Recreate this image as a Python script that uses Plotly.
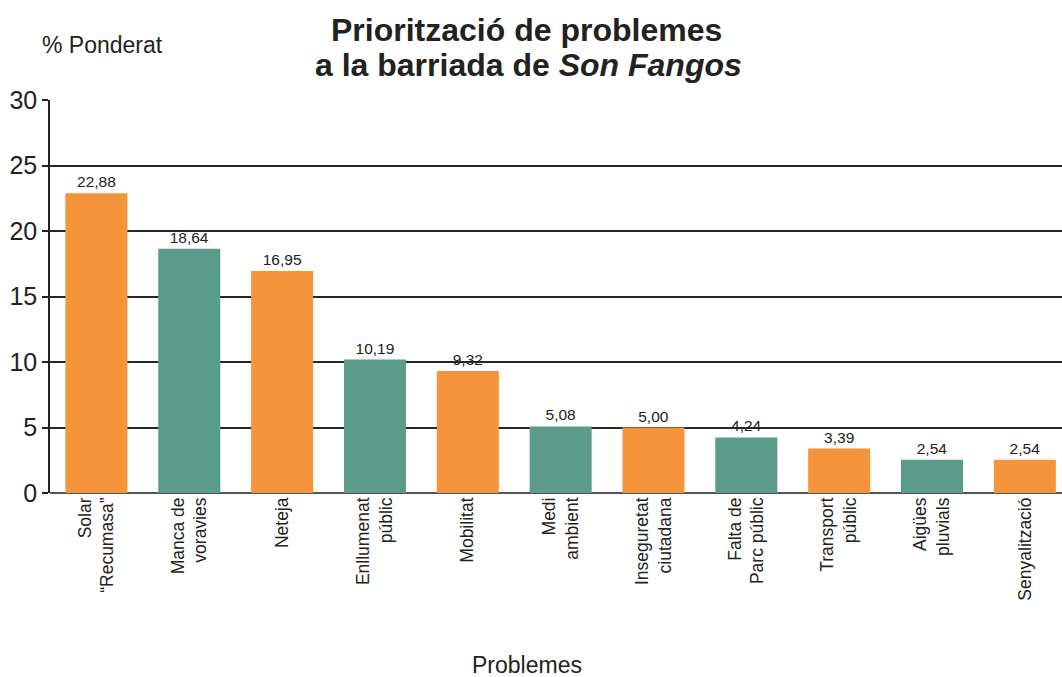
import plotly.graph_objects as go

categories = ["Solar<br>“Recumasa”", "Manca de<br>voravies", "Neteja", "Enllumenat<br>públic",
              "Mobilitat", "Medi<br>ambient", "Inseguretat<br>ciutadana", "Falta de<br>Parc públic",
              "Transport<br>públic", "Aigües<br>pluvials", "Senyalització"]
values = [22.88, 18.64, 16.95, 10.19, 9.32, 5.08, 5.00, 4.24, 3.39, 2.54, 2.54]
labels = ["22,88", "18,64", "16,95", "10,19", "9,32", "5,08", "5,00", "4,24", "3,39", "2,54", "2,54"]
y_ticks = [0, 5, 10, 15, 20, 25, 30]

ORANGE = "#F5943A"
TEAL = "#5B9B8A"
colors = [ORANGE if i % 2 == 0 else TEAL for i in range(len(values))]

FONT = "Liberation Sans, Arial, sans-serif"
W, H = 1062, 677
L, T, B = 50, 100, 184
PH = H - T - B


def px_x(x):
    return (x - L) / (W - L)


def px_y(y):
    return (H - B - y) / PH


fig = go.Figure(go.Bar(
    x=list(range(len(categories))), y=values, marker=dict(color=colors, line=dict(width=0)),
    text=labels, textposition="outside", cliponaxis=False,
    textfont=dict(family=FONT, size=15.5, color="#222"),
))

fig.update_layout(
    width=W, height=H,
    margin=dict(l=L, r=0, t=T, b=B, autoexpand=False),
    paper_bgcolor="white", plot_bgcolor="white",
    bargap=0.332, showlegend=False,
    font=dict(family=FONT, color="#222"),
    xaxis=dict(
        tickmode="array", tickvals=list(range(len(categories))), ticktext=categories,
        tickangle=-90, tickfont=dict(family=FONT, size=17.5, color="#222"),
        range=[-0.5, len(categories) - 0.6], showgrid=False, showline=False,
        zeroline=False, ticks="", automargin=False,
    ),
    yaxis=dict(
        range=[0, 30], tickvals=y_ticks, showgrid=True, gridcolor="#262626", gridwidth=1.6,
        showline=True, linecolor="#222", linewidth=1.6, ticks="outside", ticklen=6,
        tickcolor="#222", tickwidth=1.6, automargin=False,
        tickfont=dict(family=FONT, size=25, color="#222"),
        zeroline=True, zerolinecolor="#555", zerolinewidth=2,
    ),
    annotations=[
        dict(text="<b>Priorització de problemes</b>", xref="paper", yref="paper",
             x=px_x(526), y=px_y(30), xanchor="center", yanchor="middle", showarrow=False,
             font=dict(family=FONT, size=32, color="#222")),
        dict(text="<b>a la barriada de <i>Son Fangos</i></b>", xref="paper", yref="paper",
             x=px_x(528), y=px_y(65), xanchor="center", yanchor="middle", showarrow=False,
             font=dict(family=FONT, size=32, color="#222")),
        dict(text="% Ponderat", xref="paper", yref="paper", x=px_x(40), y=px_y(45),
             xanchor="left", yanchor="middle", showarrow=False,
             font=dict(family=FONT, size=23, color="#222")),
        dict(text="Problemes", xref="paper", yref="paper", x=px_x(527), y=px_y(665),
             xanchor="center", yanchor="middle", showarrow=False,
             font=dict(family=FONT, size=23, color="#222")),
    ],
)

fig.write_html("out.html", config={"displayModeBar": False},
               post_script="document.body.style.margin='0';")
